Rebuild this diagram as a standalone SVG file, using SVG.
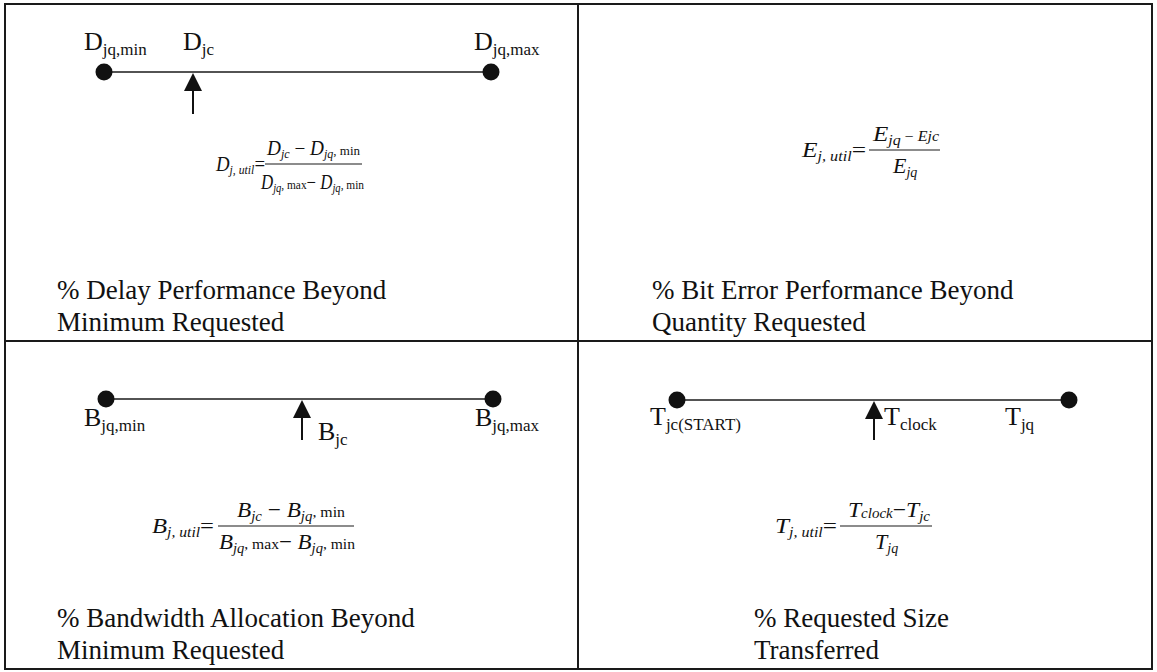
<svg xmlns="http://www.w3.org/2000/svg" width="1157" height="672" viewBox="0 0 1157 672">
<style>
text{font-family:"Liberation Serif","Times New Roman",serif;fill:#111}
.lbl{font-size:26px}
.sub{font-size:17px}
.desc{font-size:27px}
.fm{font-size:22px;font-style:italic}
.fs{font-size:14px;font-style:italic}
.rm{font-style:normal;font-size:15px}
.eq{font-style:normal}
.sm{font-size:20px}
.sm .fs{font-size:12.5px}
.sm .rm{font-size:13.5px}
.frame{fill:none;stroke:#1a1a1a;stroke-width:2}
.axis{stroke:#1a1a1a;stroke-width:1.6}
.bar{stroke:#1a1a1a;stroke-width:1.2}
.dot{fill:#111}
.shaft{stroke:#111;stroke-width:2}
</style>
<g id="frame">
<rect class="frame" x="5" y="4" width="1147" height="665"/>
<line class="frame" x1="578" y1="4" x2="578" y2="669"/>
<line class="frame" x1="5" y1="341" x2="1152" y2="341"/>
</g>
<g id="connectors">
<line class="axis" x1="104" y1="72" x2="491" y2="72"/>
<line class="shaft" x1="193" y1="88" x2="193" y2="114"/>
<polygon class="dot" points="193,73 184,91 202,91"/>
<line class="axis" x1="106" y1="399" x2="493" y2="399"/>
<line class="shaft" x1="302" y1="415" x2="302" y2="440"/>
<polygon class="dot" points="302,400 293,418 311,418"/>
<line class="axis" x1="677" y1="400" x2="1069" y2="400"/>
<line class="shaft" x1="874" y1="416" x2="874" y2="440"/>
<polygon class="dot" points="874,401 865,419 883,419"/>
</g>
<g id="delay">
<circle class="dot" cx="104" cy="72" r="8.5"/>
<circle class="dot" cx="491" cy="72" r="8.5"/>
<text class="lbl" x="84" y="50">D<tspan class="sub" dy="5">jq,min</tspan></text>
<text class="lbl" x="183" y="50">D<tspan class="sub" dy="5">jc</tspan></text>
<text class="lbl" x="474" y="50">D<tspan class="sub" dy="5">jq,max</tspan></text>
<text class="fm sm" x="216" y="171" textLength="49" lengthAdjust="spacingAndGlyphs">D<tspan class="fs" dy="3">j, util</tspan><tspan class="eq" dy="-3">=</tspan></text>
<line class="bar" x1="265" y1="164" x2="362" y2="164"/>
<text class="fm sm" x="267" y="155" textLength="93" lengthAdjust="spacingAndGlyphs">D<tspan class="fs" dy="3">jc</tspan><tspan class="eq" dy="-3"> − </tspan>D<tspan class="fs" dy="3">jq</tspan><tspan class="rm" dy="-3">, min</tspan></text>
<text class="fm sm" x="261" y="189" textLength="103" lengthAdjust="spacingAndGlyphs">D<tspan class="fs" dy="3">jq</tspan><tspan class="rm" dy="-3">, max</tspan><tspan class="eq">− </tspan>D<tspan class="fs" dy="3">jq</tspan><tspan class="rm" dy="-3">, min</tspan></text>
<text class="desc" x="57" y="299">% Delay Performance Beyond</text>
<text class="desc" x="57" y="331">Minimum Requested</text>
</g>
<g id="biterror">
<text class="fm" x="802" y="157" textLength="64" lengthAdjust="spacingAndGlyphs">E<tspan class="fs" dy="4">j, util</tspan><tspan class="eq" dy="-4">=</tspan></text>
<line class="bar" x1="869" y1="150" x2="940" y2="150"/>
<text class="fm" x="873" y="141" textLength="66" lengthAdjust="spacingAndGlyphs">E<tspan class="fs" dy="4">jq</tspan><tspan class="fs eq" dy="-4"> − </tspan><tspan class="fs">Ejc</tspan></text>
<text class="fm" x="893" y="173">E<tspan class="fs" dy="4">jq</tspan></text>
<text class="desc" x="652" y="299">% Bit Error Performance Beyond</text>
<text class="desc" x="652" y="331">Quantity Requested</text>
</g>
<g id="bandwidth">
<circle class="dot" cx="106" cy="399" r="8.5"/>
<circle class="dot" cx="493" cy="399" r="8.5"/>
<text class="lbl" x="84" y="426">B<tspan class="sub" dy="5">jq,min</tspan></text>
<text class="lbl" x="318" y="440">B<tspan class="sub" dy="5">jc</tspan></text>
<text class="lbl" x="475" y="426">B<tspan class="sub" dy="5">jq,max</tspan></text>
<text class="fm" x="152" y="533" textLength="62" lengthAdjust="spacingAndGlyphs">B<tspan class="fs" dy="4">j, util</tspan><tspan class="eq" dy="-4">=</tspan></text>
<line class="bar" x1="218" y1="526" x2="354" y2="526"/>
<text class="fm" x="237" y="517" textLength="108" lengthAdjust="spacingAndGlyphs">B<tspan class="fs" dy="4">jc</tspan><tspan class="eq" dy="-4"> − </tspan>B<tspan class="fs" dy="4">jq</tspan><tspan class="rm" dy="-4">, min</tspan></text>
<text class="fm" x="219" y="549" textLength="136" lengthAdjust="spacingAndGlyphs">B<tspan class="fs" dy="4">jq</tspan><tspan class="rm" dy="-4">, max</tspan><tspan class="eq">− </tspan>B<tspan class="fs" dy="4">jq</tspan><tspan class="rm" dy="-4">, min</tspan></text>
<text class="desc" x="57" y="627">% Bandwidth Allocation Beyond</text>
<text class="desc" x="57" y="659">Minimum Requested</text>
</g>
<g id="size">
<circle class="dot" cx="677" cy="400" r="8.5"/>
<circle class="dot" cx="1069" cy="400" r="8.5"/>
<text class="lbl" x="650" y="425">T<tspan class="sub" dy="5">jc(START)</tspan></text>
<text class="lbl" x="884" y="425">T<tspan class="sub" dy="5">clock</tspan></text>
<text class="lbl" x="1005" y="425">T<tspan class="sub" dy="5">jq</tspan></text>
<text class="fm" x="775" y="533" textLength="62" lengthAdjust="spacingAndGlyphs">T<tspan class="fs" dy="4">j, util</tspan><tspan class="eq" dy="-4">=</tspan></text>
<line class="bar" x1="840" y1="526" x2="932" y2="526"/>
<text class="fm" x="848" y="517" textLength="82" lengthAdjust="spacingAndGlyphs">T<tspan class="fs" dy="1" font-size="15px">clock</tspan><tspan class="eq" dy="-1">−</tspan>T<tspan class="fs" dy="4">jc</tspan></text>
<text class="fm" x="875" y="549">T<tspan class="fs" dy="4">jq</tspan></text>
<text class="desc" x="754" y="627">% Requested Size</text>
<text class="desc" x="754" y="659">Transferred</text>
</g>
</svg>
